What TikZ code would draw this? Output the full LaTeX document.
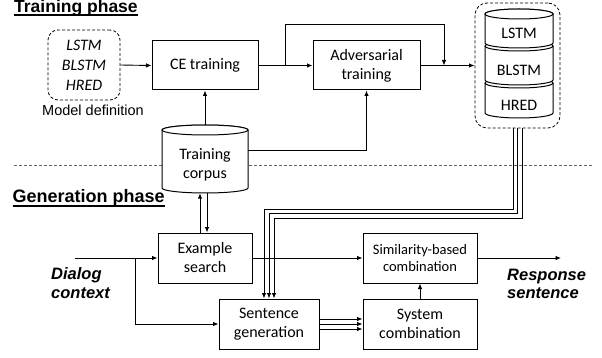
\documentclass[tikz,border=0pt]{standalone}
\usepackage{fontspec}
\setmainfont{Carlito}
\newfontfamily\arial{Liberation Sans}
\usetikzlibrary{arrows.meta,calc}
\begin{document}
\begin{tikzpicture}[x=1pt,y=-1pt,
  box/.style={draw=black,line width=1pt,fill=white,inner sep=0pt,align=center,font=\fontsize{16}{19}\selectfont},
  smallbox/.style={box,font=\fontsize{14.5}{17.5}\selectfont},
  arr/.style={-{Latex[length=5.5pt,width=4.5pt]},line width=0.9pt},
  ln/.style={line width=0.9pt},
  dashbox/.style={draw,dash pattern=on 3pt off 2pt,rounded corners=10pt,line width=0.8pt,inner sep=0pt},
  cyl/.style={draw=black,line width=1pt,fill=white},
  title/.style={anchor=base west,inner sep=0pt,font=\arial\bfseries\fontsize{17.5}{18}\selectfont},
  iolabel/.style={anchor=west,inner sep=0pt,align=left,font=\arial\bfseries\itshape\fontsize{16.5}{18.5}\selectfont},
  plain/.style={inner sep=0pt,align=center,font=\fontsize{16}{19}\selectfont}
]
\useasboundingbox (0,0) rectangle (602,358);

% separator
\draw[gray!80!black,line width=0.8pt,dash pattern=on 3pt off 2pt] (14,165) -- (592,165);

% titles
\node[title] (t1) at (14,12.8) {Training phase};
\draw[line width=1.2pt] ([yshift=-2.2pt]t1.base west) -- ([yshift=-2.2pt]t1.base east);
\node[title,font=\arial\bfseries\fontsize{18}{18}\selectfont] (t2) at (12.5,203) {Generation phase};
\draw[line width=1.2pt] ([yshift=-3pt]t2.base west) -- ([yshift=-3pt]t2.base east);

% model definition
\node[dashbox,minimum width=72pt,minimum height=70pt,align=center,font=\itshape\fontsize{16}{20}\selectfont] (md) at (84,65) {LSTM\\BLSTM\\HRED};
\node[inner sep=0pt,font=\arial\fontsize{14.5}{16}\selectfont] (mdl) at (93,110.5) {Model definition};

% boxes
\node[box,minimum width=106pt,minimum height=49pt] (ce) at (205,65.5) {CE training};
\node[box,minimum width=107pt,minimum height=49pt] (adv) at (366.5,65.5) {Adversarial\\training};
\node[box,minimum width=94pt,minimum height=50pt] (es) at (205,258) {Example\\search};
\node[box,minimum width=100pt,minimum height=50pt] (sg) at (269,324) {Sentence\\generation};
\node[smallbox,minimum width=114pt,minimum height=50pt] (sbc) at (420,258) {Similarity-based\\combination};
\node[box,minimum width=114pt,minimum height=50pt] (sc) at (420,324) {System\\combination};

% training corpus cylinder
\node[minimum width=86pt,minimum height=68pt,inner sep=0pt] (corpus) at (205,159) {};
\draw[cyl] (162,130) -- (162,188) arc[start angle=180,end angle=360,x radius=43pt,y radius=5pt] -- (248,130) arc[start angle=0,end angle=180,x radius=43pt,y radius=5pt] -- cycle;
\draw[cyl] (205,130) ellipse[x radius=43pt,y radius=5pt];
\node[plain] (corpust) at (205,165) {Training\\corpus};

% model stack
\node[dashbox,rounded corners=12pt,minimum width=85pt,minimum height=125pt] (models) at (517.5,65.5) {};
% HRED
\draw[cyl] (485,83) -- (485,113) arc[start angle=180,end angle=360,x radius=34pt,y radius=5pt] -- (553,83) arc[start angle=0,end angle=180,x radius=34pt,y radius=5pt] -- cycle;
\draw[cyl,fill=none] (485,83) arc[start angle=180,end angle=360,x radius=34pt,y radius=5pt];
% BLSTM
\draw[cyl] (485,46) -- (485,80) arc[start angle=180,end angle=360,x radius=34pt,y radius=5pt] -- (553,46) arc[start angle=0,end angle=180,x radius=34pt,y radius=5pt] -- cycle;
\draw[cyl,fill=none] (485,46) arc[start angle=180,end angle=360,x radius=34pt,y radius=5pt];
% LSTM
\draw[cyl] (485,14) -- (485,43) arc[start angle=180,end angle=360,x radius=34pt,y radius=5pt] -- (553,14) arc[start angle=0,end angle=180,x radius=34pt,y radius=5pt] -- cycle;
\draw[cyl] (519,14) ellipse[x radius=34pt,y radius=5pt];
\node[plain] (m1) at (519,33) {LSTM};
\node[plain] (m2) at (519,70) {BLSTM};
\node[plain] (m3) at (519,105) {HRED};

% labels
\node[iolabel] (dct) at (51,283) {Dialog\\context};
\node[iolabel] (rst) at (507,284) {Response\\sentence};

% coordinates
\coordinate (b1) at (285,65.5);
\coordinate (b2) at (444,65.5);
\coordinate (dc) at (75,258);
\coordinate (b3) at (135,258);
\coordinate (out) at (561,258);

% training connectors
\draw[arr] (md.east) -- (ce.west);
\draw[arr] (corpus.north) -- (ce.south);
\draw[arr] (ce.east) -- (adv.west);
\draw[arr] (b1) -- ++(0,-41.5) -| (b2);
\draw[arr] (adv.east) -- (models.west);
\draw[arr] ([yshift=9pt]corpus.east) -| (adv.south);

% generation connectors
\draw[arr] ([xshift=-5pt]es.north) -- ([xshift=-5pt]corpus.south);
\draw[arr] ([xshift=2pt]corpus.south) -- ([xshift=2pt]es.north);
\draw[arr] (dc) -- (es.west);
\draw[arr] (b3) |- (sg.west);
\draw[arr] (es.east) -- (sbc.west);
\draw[arr] ([yshift=5pt]sg.east) -- ([yshift=5pt]sc.west);
\draw[arr] (sg.east) -- (sc.west);
\draw[arr] ([yshift=-5pt]sg.east) -- ([yshift=-5pt]sc.west);
\draw[arr] (sc.north) -- (sbc.south);
\draw[arr] (sbc.east) -- (out);

% triple model lines
\draw[arr] ([xshift=-4.5pt]models.south) -- ++(0,81) -| ([xshift=-5pt]sg.north);
\draw[arr] (models.south) -- ++(0,85.5) -| (sg.north);
\draw[arr] ([xshift=4.5pt]models.south) -- ++(0,90) -| ([xshift=5pt]sg.north);
\end{tikzpicture}
\end{document}
